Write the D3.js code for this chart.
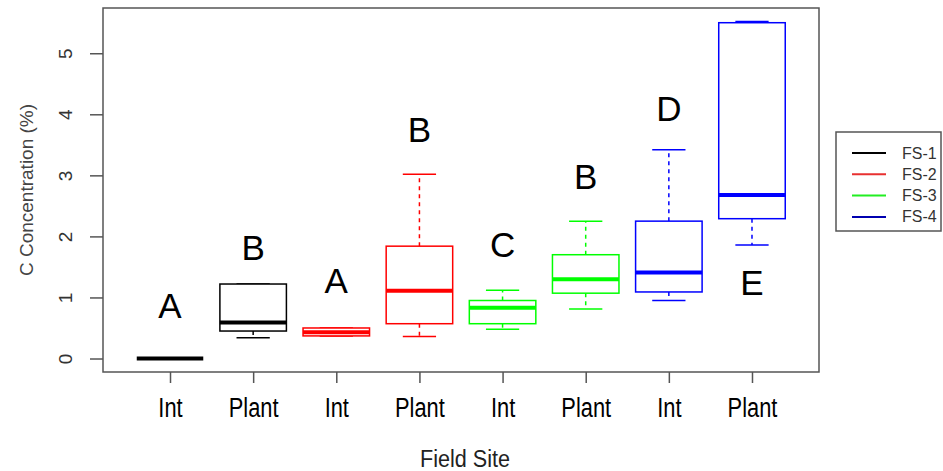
<html>
<head>
<script src="https://d3js.org/d3.v7.min.js"></script>
<style>
body { margin: 0; background: #fff; }
text { font-family: "Liberation Sans", Arial, sans-serif; }
</style>
</head>
<body>
<svg width="943" height="471"></svg>
<script>
// values
var groups  = ["Int", "Plant", "Int", "Plant", "Int", "Plant", "Int", "Plant"];
var sites   = ["FS-1", "FS-1", "FS-2", "FS-2", "FS-3", "FS-3", "FS-4", "FS-4"];
var mins    = [0, 0.34, 0.37, 0.36, 0.48, 0.81, 0.95, 1.86];
var q1s     = [0, 0.45, 0.37, 0.57, 0.57, 1.07, 1.09, 2.29];
var medians = [0, 0.59, 0.43, 1.11, 0.83, 1.30, 1.41, 2.68];
var q3s     = [0, 1.22, 0.50, 1.84, 0.95, 1.70, 2.25, 5.50];
var maxs    = [0, 1.22, 0.50, 3.02, 1.12, 2.25, 3.42, 5.52];
var letters = ["A", "B", "A", "B", "C", "B", "D", "E"];
var letterY = [0.66, 1.62, 1.07, 3.55, 1.66, 2.78, 3.89, 1.04];
var legendSites = ["FS-1", "FS-2", "FS-3", "FS-4"];
var yTicks = [0, 1, 2, 3, 4, 5];

var colors = {"FS-1": "#000000", "FS-2": "#ff0000", "FS-3": "#00ff00", "FS-4": "#0000ff"};
var legendColors = {"FS-1": "#000000", "FS-2": "#e83030", "FS-3": "#22ee22", "FS-4": "#0000b0"};

var data = groups.map(function(g, i) {
  return {i: i + 1, group: g, site: sites[i], min: mins[i], q1: q1s[i], med: medians[i],
          q3: q3s[i], max: maxs[i], letter: letters[i], ly: letterY[i]};
});

var L = 103, R = 819, T = 8, B = 372;
var x = d3.scaleLinear().domain([0.194, 8.806]).range([L, R]);
var y = d3.scaleLinear().domain([-0.221, 5.741]).range([B, T]);
var bw = (x(1.4) - x(1)); // half box width (boxwex 0.8)

var svg = d3.select("svg");

// boxes
var g = svg.append("g").selectAll("g").data(data).enter().append("g");

g.append("line")   // upper whisker
  .attr("x1", function(d) { return x(d.i); }).attr("x2", function(d) { return x(d.i); })
  .attr("y1", function(d) { return y(d.q3); }).attr("y2", function(d) { return y(d.max); })
  .attr("stroke", function(d) { return colors[d.site]; }).attr("stroke-width", 1.5)
  .attr("stroke-dasharray", "4,4");
g.append("line")   // lower whisker
  .attr("x1", function(d) { return x(d.i); }).attr("x2", function(d) { return x(d.i); })
  .attr("y1", function(d) { return y(d.q1); }).attr("y2", function(d) { return y(d.min); })
  .attr("stroke", function(d) { return colors[d.site]; }).attr("stroke-width", 1.5)
  .attr("stroke-dasharray", "4,4");
["max", "min"].forEach(function(k) {
  g.append("line")
    .attr("x1", function(d) { return x(d.i) - bw / 2; }).attr("x2", function(d) { return x(d.i) + bw / 2; })
    .attr("y1", function(d) { return y(d[k]); }).attr("y2", function(d) { return y(d[k]); })
    .attr("stroke", function(d) { return colors[d.site]; }).attr("stroke-width", 1.5);
});
g.append("rect")
  .attr("x", function(d) { return x(d.i) - bw; })
  .attr("width", 2 * bw)
  .attr("y", function(d) { return y(d.q3); })
  .attr("height", function(d) { return y(d.q1) - y(d.q3); })
  .attr("fill", "#fff")
  .attr("stroke", function(d) { return colors[d.site]; }).attr("stroke-width", 1.5);
g.append("line")
  .attr("x1", function(d) { return x(d.i) - bw; }).attr("x2", function(d) { return x(d.i) + bw; })
  .attr("y1", function(d) { return y(d.med); }).attr("y2", function(d) { return y(d.med); })
  .attr("stroke", function(d) { return colors[d.site]; }).attr("stroke-width", 4);

// letters
g.append("text")
  .attr("x", function(d) { return x(d.i); })
  .attr("y", function(d) { return y(d.ly); })
  .attr("text-anchor", "middle")
  .attr("font-size", 35)
  .attr("fill", "#000")
  .text(function(d) { return d.letter; });

// plot frame
svg.append("rect").attr("x", L).attr("y", T).attr("width", R - L).attr("height", B - T)
  .attr("fill", "none").attr("stroke", "#555").attr("stroke-width", 1.5);

// y axis
var ya = svg.append("g").attr("transform", "translate(" + L + ",0)")
  .call(d3.axisLeft(y).tickValues(yTicks).tickSize(13).tickFormat(d3.format("d")));
ya.select(".domain").remove();
ya.selectAll(".tick line").attr("stroke", "#555").attr("stroke-width", 1.5);
ya.selectAll(".tick text")
  .attr("x", null).attr("dy", null)
  .attr("transform", "translate(-38,0) rotate(-90)")
  .attr("text-anchor", "middle").attr("dominant-baseline", "central")
  .attr("font-size", 19).attr("fill", "#333")
  .style("font-family", "'Liberation Sans', Arial, sans-serif");

// x axis, labels condensed like the original
var xa = svg.append("g").attr("transform", "translate(0," + B + ")")
  .call(d3.axisBottom(x).tickValues(data.map(function(d) { return d.i; })).tickSize(11)
    .tickFormat(function(v) { return groups[v - 1]; }));
xa.select(".domain").remove();
xa.selectAll(".tick line").attr("stroke", "#555").attr("stroke-width", 1.5);
xa.selectAll(".tick text")
  .attr("y", 45).attr("dy", null)
  .attr("transform", "scale(0.78,1)")
  .attr("font-size", 28).attr("fill", "#000")
  .style("font-family", "'Liberation Sans', Arial, sans-serif");

// axis titles
svg.append("text").attr("transform", "translate(26,190) rotate(-90)")
  .attr("text-anchor", "middle").attr("dominant-baseline", "central")
  .attr("font-size", 19).attr("fill", "#444").text("C Concentration (%)");
svg.append("text").attr("transform", "translate(465,467) scale(0.9,1)")
  .attr("text-anchor", "middle").attr("font-size", 24).attr("fill", "#222").text("Field Site");

// legend
var lg = svg.append("g");
lg.append("rect").attr("x", 836).attr("y", 132).attr("width", 105).attr("height", 99)
  .attr("fill", "#fff").attr("stroke", "#555").attr("stroke-width", 1.5);
var rows = lg.selectAll("g").data(legendSites).enter().append("g")
  .attr("transform", function(d, i) { return "translate(0," + (153 + i * 21.3) + ")"; });
rows.append("line").attr("x1", 852).attr("x2", 886).attr("y1", 0).attr("y2", 0)
  .attr("stroke", function(d) { return legendColors[d]; }).attr("stroke-width", 2);
rows.append("text").attr("x", 902).attr("y", 0).attr("dominant-baseline", "central")
  .attr("font-size", 16).attr("fill", "#333").text(function(d) { return d; });
</script>
</body>
</html>
